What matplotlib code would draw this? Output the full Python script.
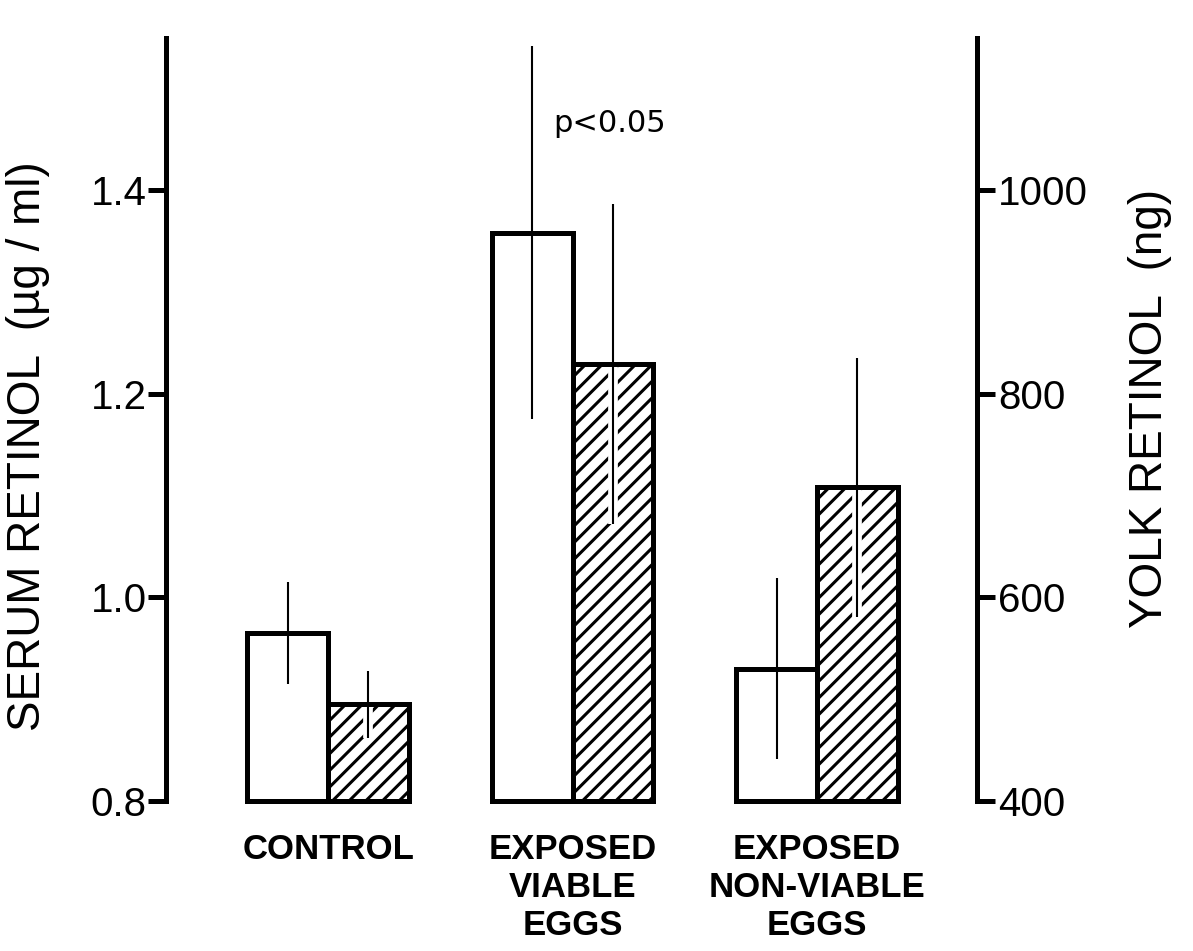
import matplotlib
matplotlib.use('agg')
import matplotlib.pyplot as plt
import numpy as np

# group means +/- SD; open bars = serum (left axis), hatched bars = yolk (right axis)
groups = ['CONTROL', 'EXPOSED\nVIABLE\nEGGS', 'EXPOSED\nNON-VIABLE\nEGGS']
serum = np.array([0.965, 1.358, 0.930])      # ug/ml
serum_sd = np.array([0.050, 0.183, 0.089])
yolk = np.array([495, 829, 708])             # ng
yolk_sd = np.array([33, 157, 127])

serum_ticks = [0.8, 1.0, 1.2, 1.4]
yolk_ticks = [400, 600, 800, 1000]

plt.rcParams['font.family'] = ['Liberation Sans', 'DejaVu Sans']
plt.rcParams['hatch.linewidth'] = 2.2

W, H = 1193, 951
fig = plt.figure(figsize=(W / 100, H / 100), dpi=100)
ax = fig.add_axes([166 / W, 1 - 801 / H, (977 - 166) / W, (801 - 38) / H])
ax2 = ax.twinx()

x = np.arange(len(groups))
w = 0.33
lw = 3.6

# serum bars
ax.bar(x - w / 2, serum - 0.8, w, bottom=0.8, color='white', edgecolor='black',
       lw=lw, clip_on=False, zorder=2)
ax.vlines(x - w / 2, serum - serum_sd, serum + serum_sd, color='black', lw=1.5, zorder=3)

# yolk bars: hatch first, clear a strip round the error line, then outline
ax2.bar(x + w / 2, yolk - 400, w, bottom=400, color='white', edgecolor='black',
        hatch='//', lw=0, zorder=1)
ax2.vlines(x + w / 2, yolk - yolk_sd, yolk, color='white', lw=7, zorder=2)
ax2.bar(x + w / 2, yolk - 400, w, bottom=400, fill=False, edgecolor='black',
        lw=lw, clip_on=False, zorder=3)
ax2.vlines(x + w / 2, yolk - yolk_sd, yolk + yolk_sd, color='black', lw=1.5, zorder=4)

ax.set_xlim(-0.663, 2.654)
ax.set_ylim(0.8, 1.549)
ax2.set_ylim(400, 1149)

ax.set_yticks(serum_ticks)
ax.set_yticklabels(['%.1f' % t for t in serum_ticks])
ax2.set_yticks(yolk_ticks)
ax2.set_yticklabels([str(t) for t in yolk_ticks])
ax.tick_params(axis='y', direction='out', length=13, width=lw, pad=1, labelsize=29)
ax2.tick_params(axis='y', direction='out', length=13, width=lw, pad=2, labelsize=29)

ax.set_xticks(x)
ax.set_xticklabels(groups, fontsize=25, fontweight='bold', linespacing=1.2)
ax.tick_params(axis='x', length=0, pad=23)

for s in ['top', 'right', 'bottom']:
    ax.spines[s].set_visible(False)
for s in ['top', 'left', 'bottom']:
    ax2.spines[s].set_visible(False)
ax.spines['left'].set_linewidth(lw)
ax.spines['left'].set_capstyle('projecting')
ax2.spines['right'].set_linewidth(lw)
ax2.spines['right'].set_capstyle('projecting')

ax.text(0.92, 1.465, 'p<0.05', fontsize=22, ha='left', va='center',
        family=['DejaVu Sans'])

fig.text(28 / W, 1 - 446 / H, 'SERUM RETINOL  (\u00b5g / ml)', rotation=90,
         ha='center', va='center', fontsize=33)
fig.text(1150 / W, 1 - 408 / H, 'YOLK RETINOL  (ng)', rotation=90,
         ha='center', va='center', fontsize=33)

fig.savefig('out.png', dpi=100)
